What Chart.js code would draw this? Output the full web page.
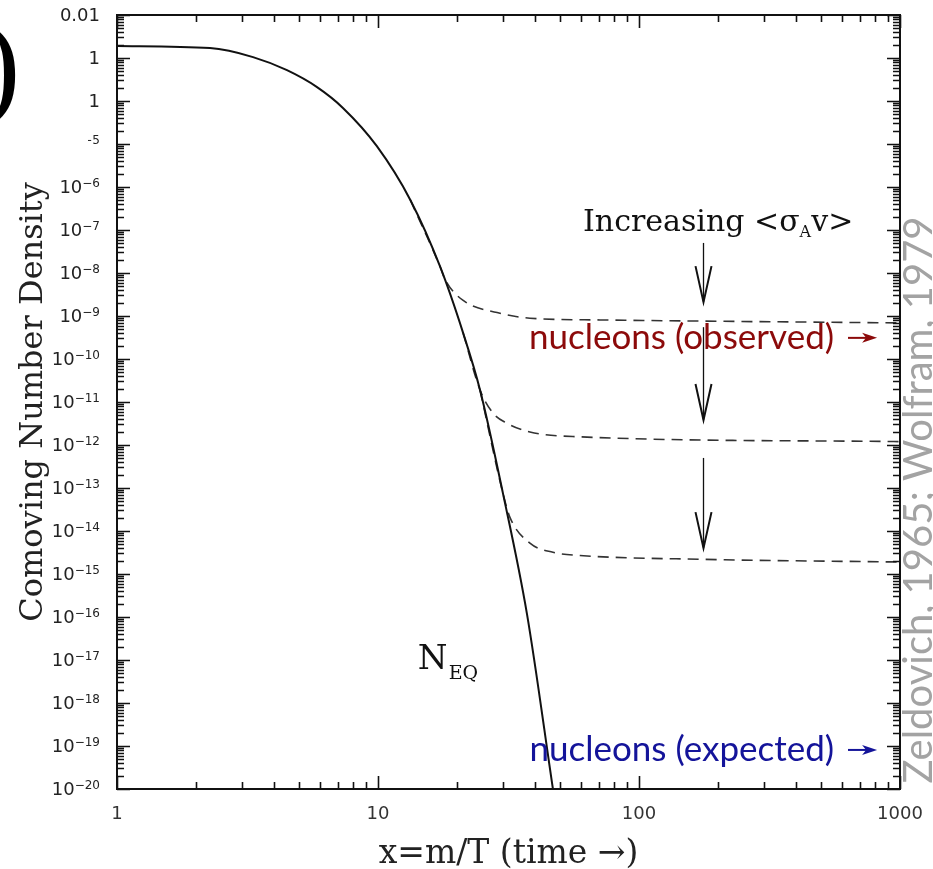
<!DOCTYPE html>
<html>
<head>
<meta charset="utf-8">
<title>Comoving Number Density</title>
<script src="https://cdn.jsdelivr.net/npm/chart.js@4.4.0/dist/chart.umd.min.js"></script>
<style>
  html, body { margin: 0; padding: 0; background: #fff; }
  canvas { display: block; }
</style>
</head>
<body>
<canvas id="freezeChart" width="933" height="869"></canvas>
<script>
// equilibrium abundance N_EQ against x = m/T
const neqX = [1, 2.27, 3.32, 4.48, 5.84, 7.34, 9.9, 13.3, 17.3, 21.2, 24.6, 30.1, 37.2, 46.8];
const neqY = [1.9e-3, 1.7e-3, 1.05e-3, 5.2e-4, 2.1e-4, 6.9e-5, 8.9e-6, 5.0e-7, 1.4e-8, 4e-10, 1.9e-11, 7.6e-14, 1.2e-16, 1e-20];

// freeze-out curves, weakest to strongest annihilation
const weakX = [13.3, 17.3, 18.1, 21.2, 28.6, 38.2, 70.9, 1000];
const weakY = [5.0e-7, 1.4e-8, 6.9e-9, 2.3e-9, 1.2e-9, 8.9e-10, 8.1e-10, 6.9e-10];

const midX = [21.2, 24.6, 27.6, 31.2, 38.2, 59.4, 1000];
const midY = [4e-10, 1.9e-11, 5.5e-12, 3.2e-12, 2.0e-12, 1.55e-12, 1.2e-12];

const strongX = [24.6, 30.1, 32.0, 38.2, 46.8, 59.4, 171, 1000];
const strongY = [1.9e-11, 7.6e-14, 2.1e-14, 5.2e-15, 3.2e-15, 2.7e-15, 2.2e-15, 1.9e-15];

// axis ticks
const xTickValues = [1, 10, 100, 1000];
const xTickLabels = ['1', '10', '100', '1000'];
const yTickValues = [1e-20, 1e-19, 1e-18, 1e-17, 1e-16, 1e-15, 1e-14, 1e-13, 1e-12, 1e-11,
                     1e-10, 1e-9, 1e-8, 1e-7, 1e-6, 1e-5, 1e-4, 1e-3, 1e-2];
const yTickLabels = ['10^−20', '10^−19', '10^−18', '10^−17', '10^−16', '10^−15', '10^−14', '10^−13',
                     '10^−12', '10^−11', '10^−10', '10^−9', '10^−8', '10^−7', '10^−6', '10^−5',
                     '0.0001', '0.001', '0.01'];

const toPoints = (xs, ys) => xs.map((x, i) => ({ x: x, y: ys[i] }));

const isDecade = v => Math.abs(Math.log10(v) - Math.round(Math.log10(v))) < 1e-6;

// every 1..9 x 10^n between the given decades
const logTicks = (lo, hi) => {
    const out = [];
    for (let e = lo; e < hi; e++) {
        for (let m = 1; m < 10; m++) out.push({ value: m * Math.pow(10, e) });
    }
    out.push({ value: Math.pow(10, hi) });
    return out;
};

/*
    Frame with inward ticks on all four sides, and y labels with superscripts
*/
const frameTicks = {
    id: 'frameTicks',
    afterDraw(chart) {
        const ctx = chart.ctx;
        const a = chart.chartArea;
        const x = chart.scales.x;
        const y = chart.scales.y;
        ctx.save();
        ctx.strokeStyle = '#111';
        ctx.lineWidth = 1.6;
        ctx.beginPath();
        x.ticks.forEach(t => {
            const px = Math.round(x.getPixelForValue(t.value)) + 0.5;
            const len = isDecade(t.value) ? 13 : 7;
            ctx.moveTo(px, a.bottom); ctx.lineTo(px, a.bottom - len);
            ctx.moveTo(px, a.top); ctx.lineTo(px, a.top + len);
        });
        y.ticks.forEach(t => {
            const py = Math.round(y.getPixelForValue(t.value)) + 0.5;
            const len = isDecade(t.value) ? 13 : 7;
            ctx.moveTo(a.left, py); ctx.lineTo(a.left + len, py);
            ctx.moveTo(a.right, py); ctx.lineTo(a.right - len, py);
        });
        ctx.stroke();
        ctx.lineWidth = 2;
        ctx.strokeRect(a.left, a.top, a.right - a.left, a.bottom - a.top);

        // y tick labels
        ctx.fillStyle = '#222';
        ctx.textAlign = 'right';
        const right = a.left - 17;
        yTickValues.forEach((v, i) => {
            const py = y.getPixelForValue(v);
            const parts = yTickLabels[i].split('^');
            let baseRight = right;
            if (parts.length > 1) {
                ctx.font = '12px "DejaVu Sans"';
                ctx.textBaseline = 'top';
                ctx.fillText(parts[1], right, py - 9);
                baseRight = right - ctx.measureText(parts[1]).width;
            }
            ctx.font = '18px "DejaVu Sans"';
            ctx.textBaseline = 'middle';
            ctx.fillText(parts[0], baseRight, py + 1);
        });

        // slide element covering the upper labels
        ctx.fillStyle = '#fff';
        ctx.fillRect(0, 30, 88, 128);
        ctx.fillStyle = '#000';
        ctx.font = '118px "Liberation Serif"';
        ctx.textAlign = 'left';
        ctx.textBaseline = 'alphabetic';
        ctx.fillText(')', -19, 104);
        ctx.restore();
    }
};

/*
    Arrows and text labels
*/
const annotations = {
    id: 'annotations',
    afterDraw(chart) {
        const ctx = chart.ctx;
        const x = chart.scales.x;
        const y = chart.scales.y;
        const px = v => x.getPixelForValue(v);
        const py = v => y.getPixelForValue(v);
        ctx.save();

        // downward arrows
        const arrowX = 176;
        const arrowTop = [5e-8, 5.5e-10, 5e-13];
        const arrowTip = [2.1e-9, 3.8e-12, 4e-15];
        ctx.strokeStyle = '#111';
        arrowTop.forEach((top, i) => {
            const ax = Math.round(px(arrowX)) + 0.5;
            const tip = py(arrowTip[i]);
            ctx.lineWidth = 1.3;
            ctx.beginPath();
            ctx.moveTo(ax, py(top));
            ctx.lineTo(ax, tip);
            ctx.stroke();
            ctx.lineWidth = 2;
            ctx.beginPath();
            ctx.moveTo(ax - 8, tip - 36);
            ctx.lineTo(ax, tip);
            ctx.lineTo(ax + 8, tip - 36);
            ctx.stroke();
        });

        // Increasing <σ_A v>
        ctx.fillStyle = '#111';
        ctx.textBaseline = 'alphabetic';
        ctx.textAlign = 'left';
        const big = '30px "DejaVu Serif"';
        const small = '16px "DejaVu Serif"';
        ctx.font = big;
        const w1 = ctx.measureText('Increasing <σ').width;
        const w3 = ctx.measureText('v>').width;
        ctx.font = small;
        const w2 = ctx.measureText('A').width;
        let tx = px(201) - (w1 + w2 + w3) / 2;
        const ty = py(1.6e-7) + 10;
        ctx.font = big;
        ctx.fillText('Increasing <σ', tx, ty);
        tx += w1;
        ctx.font = small;
        ctx.fillText('A', tx, ty + 6);
        tx += w2;
        ctx.font = big;
        ctx.fillText('v>', tx, ty);

        // N_EQ
        ctx.font = '34px "DejaVu Serif"';
        ctx.textAlign = 'center';
        const nx = px(16.2);
        const ny = py(1.2e-17) + 12;
        ctx.fillText('N', nx, ny);
        ctx.font = '19px "DejaVu Serif"';
        ctx.textAlign = 'left';
        ctx.fillText('EQ', nx + 16, ny + 10);

        // nucleon labels with small arrows
        const tagText = ['nucleons (observed)', 'nucleons (expected)'];
        const tagY = [3.1e-10, 8.1e-20];
        const tagColor = ['#8c0a0a', '#14149a'];
        tagText.forEach((t, i) => {
            const yy = py(tagY[i]);
            ctx.fillStyle = tagColor[i];
            ctx.strokeStyle = tagColor[i];
            ctx.font = '35px Lato';
            ctx.textAlign = 'right';
            ctx.textBaseline = 'middle';
            ctx.fillText(t, px(559), yy);
            const x0 = px(632);
            const x1 = px(817);
            ctx.lineWidth = 2;
            ctx.beginPath();
            ctx.moveTo(x0, yy);
            ctx.lineTo(x1 - 8, yy);
            ctx.stroke();
            ctx.beginPath();
            ctx.moveTo(x1, yy);
            ctx.lineTo(x1 - 15, yy - 5);
            ctx.lineTo(x1 - 11, yy);
            ctx.lineTo(x1 - 15, yy + 5);
            ctx.closePath();
            ctx.fill();
        });

        // citation along the right edge
        ctx.translate(chart.width - 1, 500);
        ctx.rotate(-Math.PI / 2);
        ctx.fillStyle = '#a3a3a3';
        ctx.font = '40px Lato';
        ctx.textAlign = 'center';
        ctx.textBaseline = 'alphabetic';
        ctx.fillText('Zeldovich, 1965; Wolfram, 1979', 0, 0);
        ctx.restore();
    }
};

const ctx = document.getElementById('freezeChart').getContext('2d');
const freezeChart = new Chart(ctx, {
    type: 'line',
    data: {
        datasets: [
            { data: toPoints(neqX, neqY), borderColor: '#111', borderWidth: 2 },
            { data: toPoints(weakX, weakY), borderColor: '#333', borderWidth: 1.6, borderDash: [11, 7] },
            { data: toPoints(midX, midY), borderColor: '#333', borderWidth: 1.6, borderDash: [11, 7] },
            { data: toPoints(strongX, strongY), borderColor: '#333', borderWidth: 1.6, borderDash: [11, 7] }
        ]
    },
    options: {
        responsive: false,
        devicePixelRatio: 1,
        animation: false,
        layout: { padding: { top: 15, right: 33, left: 0, bottom: 0 } },
        elements: {
            point: { radius: 0 },
            line: { fill: false, cubicInterpolationMode: 'monotone' }
        },
        plugins: { legend: { display: false }, tooltip: { enabled: false } },
        scales: {
            x: {
                type: 'logarithmic',
                min: 1,
                max: 1000,
                afterBuildTicks: scale => { scale.ticks = logTicks(0, 3); },
                afterFit: scale => {
                    scale.height = 80;
                    scale.paddingLeft = 0;
                    scale.paddingRight = 0;
                },
                grid: { display: false, drawTicks: false },
                border: { display: false },
                ticks: {
                    autoSkip: false,
                    maxRotation: 0,
                    padding: 15,
                    color: '#333',
                    font: { family: 'DejaVu Sans', size: 18 },
                    callback: value => {
                        const i = xTickValues.findIndex(v => Math.abs(v - value) < 1e-9);
                        return i >= 0 ? xTickLabels[i] : '';
                    }
                },
                title: {
                    display: true,
                    text: 'x=m/T (time →)',
                    color: '#222',
                    font: { family: 'DejaVu Serif', size: 33 },
                    padding: { top: 0, bottom: -5 }
                }
            },
            y: {
                type: 'logarithmic',
                min: 1e-20,
                max: 1e-2,
                afterBuildTicks: scale => { scale.ticks = logTicks(-20, -2); },
                afterFit: scale => { scale.width = 117; },
                grid: { display: false, drawTicks: false },
                border: { display: false },
                ticks: { display: false },
                title: {
                    display: true,
                    text: 'Comoving Number Density',
                    color: '#222',
                    font: { family: 'DejaVu Serif', size: 32 },
                    padding: { top: 14, bottom: 0 }
                }
            }
        }
    },
    plugins: [frameTicks, annotations]
});
</script>
</body>
</html>
